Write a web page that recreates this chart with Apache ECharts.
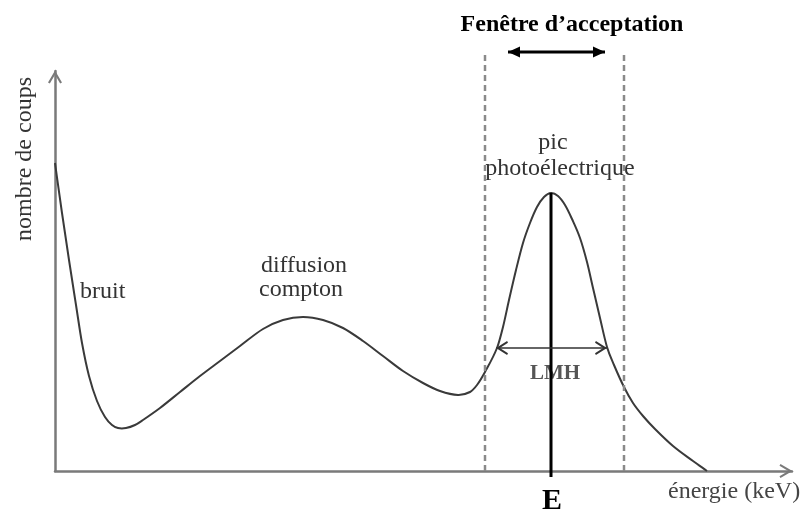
<!DOCTYPE html>
<html>
<head>
<meta charset="utf-8">
<script src="https://cdn.jsdelivr.net/npm/echarts@6/dist/echarts.min.js"></script>
<style>
  html, body { margin: 0; padding: 0; background: #fff; }
  #chart { width: 808px; height: 510px; }
</style>
</head>
<body>
<div id="chart"></div>
<script>
// spectre (unités arbitraires)
var energy = [0, 7, 14, 21, 27, 34, 42, 50, 57, 63, 71, 80, 88, 105, 125, 145, 165, 185, 208, 228, 248, 268, 288, 308, 328, 348, 368, 385, 403, 415, 422, 430, 442, 448, 454, 461, 468, 475, 482, 489, 496, 503, 510, 517, 525, 532, 538, 545, 552, 559, 569, 578, 588, 600, 618, 638, 652];
var counts = [308, 258, 211, 166, 128, 95, 70, 54, 46, 43, 43, 46, 51, 63, 79, 95, 110, 125, 142, 151, 154, 151, 143, 130, 115, 100, 88, 80, 76, 79, 86, 99, 123, 144, 171, 201, 228, 248, 264, 274, 278, 275, 266, 252, 233, 209, 183, 153, 124, 106, 84, 68, 55, 42, 25, 10, 0];

// fenêtre d'acceptation et pic
var windowEdges = [430, 569];
var windowTop = 419;
var windowArrow = [453, 550];
var peakE = 496;
var peakCounts = 278;
var lmhEdges = [441, 552];
var lmhLevel = 123;

(function () {
    var chart = echarts.init(document.getElementById('chart'));
    var serif = "'Liberation Serif', 'Times New Roman', serif";
    var chevron = 'path://M5,0 L10,8.6 L8.7,9.3 L5,3 L1.3,9.3 L0,8.6 Z';

    var spectrum = [];
    for (var i = 0; i < energy.length; i++) {
        spectrum.push([energy[i], counts[i]]);
    }

    // courbe lisse (Hermite) passant par les points lus, tracée via api.coord
    function renderSpectrum(params, api) {
        if (params.dataIndex !== 0) return null;
        var p = [];
        for (var i = 0; i < energy.length; i++) {
            p.push(api.coord([energy[i], counts[i]]));
        }
        var n = p.length, m = [];
        for (var i = 0; i < n; i++) {
            var a = p[Math.max(i - 1, 0)], b = p[Math.min(i + 1, n - 1)];
            m.push((b[1] - a[1]) / (b[0] - a[0]));
        }
        var d = 'M' + p[0][0] + ',' + p[0][1];
        for (var i = 0; i < n - 1; i++) {
            var h = (p[i + 1][0] - p[i][0]) / 3;
            d += ' C' + (p[i][0] + h) + ',' + (p[i][1] + m[i] * h) + ' ' +
                (p[i + 1][0] - h) + ',' + (p[i + 1][1] - m[i + 1] * h) + ' ' +
                p[i + 1][0] + ',' + p[i + 1][1];
        }
        return {
            type: 'path',
            shape: { pathData: d },
            style: { fill: 'none', stroke: '#3a3a3a', lineWidth: 2 }
        };
    }

    function vline(x, y0, y1, style) {
        return {
            type: 'line', silent: true, clip: false, symbol: 'none',
            data: [[x, y0], [x, y1]],
            lineStyle: style
        };
    }

    function arrow(xs, y, sym, size, offset, color, width) {
        return {
            type: 'line', silent: true, clip: false,
            symbol: sym, symbolSize: size, showSymbol: true,
            data: [
                { value: [xs[0], y], symbolRotate: 90, symbolOffset: [offset, 0] },
                { value: [xs[1], y], symbolRotate: -90, symbolOffset: [-offset, 0] }
            ],
            itemStyle: { color: color },
            lineStyle: { color: color, width: width }
        };
    }

    var option = {
        animation: false,
        grid: { left: 55, right: 16, top: 71, bottom: 39 },
        xAxis: {
            type: 'value', min: 0, max: 737,
            axisLine: {
                symbol: ['none', chevron], symbolSize: [14, 13], symbolOffset: [0, -6],
                lineStyle: { color: '#7a7a7a', width: 2.5 }
            },
            axisTick: { show: false }, axisLabel: { show: false }, splitLine: { show: false }
        },
        yAxis: {
            type: 'value', min: 0, max: 400,
            axisLine: {
                show: true,
                symbol: ['none', chevron], symbolSize: [14, 13], symbolOffset: [0, -6],
                lineStyle: { color: '#7a7a7a', width: 2.5 }
            },
            axisTick: { show: false }, axisLabel: { show: false }, splitLine: { show: false }
        },
        series: [
            {
                name: 'spectre', type: 'custom', silent: true,
                renderItem: renderSpectrum, data: spectrum,
                encode: { x: 0, y: 1 }
            },
            vline(windowEdges[0], 0, windowTop, { color: '#8a8a8a', width: 2.5, type: [6, 4] }),
            vline(windowEdges[1], 0, windowTop, { color: '#8a8a8a', width: 2.5, type: [6, 4] }),
            vline(peakE, peakCounts, -6, { color: '#000', width: 3 }),
            arrow(windowArrow, windowTop, 'triangle', [11, 12], 6, '#000', 3),
            arrow(lmhEdges, lmhLevel, chevron, [14, 12], 6, '#333', 1.5)
        ],
        graphic: [
            { type: 'text', x: 572, y: 25, style: { text: 'Fenêtre d’acceptation', font: 'bold 24px ' + serif, fill: '#000', align: 'center', verticalAlign: 'middle' } },
            { type: 'text', x: 553, y: 143, style: { text: 'pic', font: '24px ' + serif, fill: '#333', align: 'center', verticalAlign: 'middle' } },
            { type: 'text', x: 560, y: 169, style: { text: 'photoélectrique', font: '24px ' + serif, fill: '#333', align: 'center', verticalAlign: 'middle' } },
            { type: 'text', x: 304, y: 266, style: { text: 'diffusion', font: '24px ' + serif, fill: '#333', align: 'center', verticalAlign: 'middle' } },
            { type: 'text', x: 301, y: 290, style: { text: 'compton', font: '24px ' + serif, fill: '#333', align: 'center', verticalAlign: 'middle' } },
            { type: 'text', x: 80, y: 292, style: { text: 'bruit', font: '24px ' + serif, fill: '#333', align: 'left', verticalAlign: 'middle' } },
            { type: 'text', x: 555, y: 374, style: { text: 'LMH', font: 'bold 21px ' + serif, fill: '#555', align: 'center', verticalAlign: 'middle' } },
            { type: 'text', x: 552, y: 501, style: { text: 'E', font: 'bold 30px ' + serif, fill: '#000', align: 'center', verticalAlign: 'middle' } },
            { type: 'text', x: 668, y: 492, style: { text: 'énergie (keV)', font: '24px ' + serif, fill: '#444', align: 'left', verticalAlign: 'middle' } },
            { type: 'text', x: 25, y: 159, rotation: Math.PI / 2, style: { text: 'nombre de coups', font: '24px ' + serif, fill: '#333', align: 'center', verticalAlign: 'middle' } }
        ]
    };

    chart.setOption(option);
})();
</script>
</body>
</html>
